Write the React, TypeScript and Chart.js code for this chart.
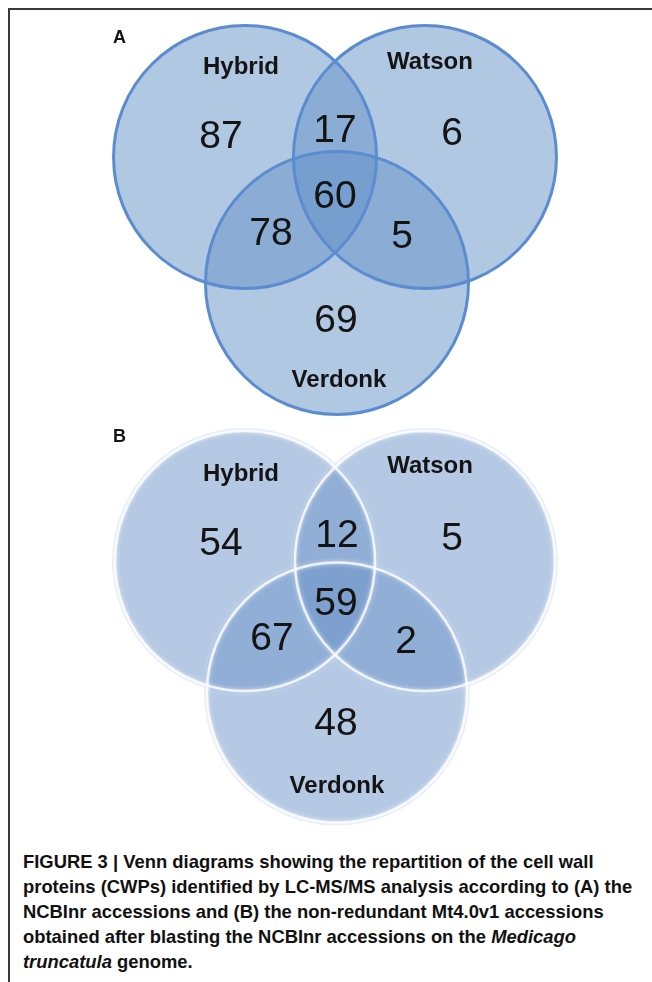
import React, { useEffect, useRef } from "react";
import { Chart, registerables } from "chart.js";

Chart.register(...registerables);

// ---------- data ----------
const setNames = ["Hybrid", "Watson", "Verdonk"];
// region order: Hybrid only, Watson only, Verdonk only, H∩W, H∩V, W∩V, H∩W∩V
const regionKeys = ["H", "W", "V", "HW", "HV", "WV", "HWV"];
const countsA = [87, 6, 69, 17, 78, 5, 60];
const countsB = [54, 5, 48, 12, 67, 2, 59];

// ---------- Venn layout (units = circle radius) ----------
const circleRadius = 1;
const circleCentersA = [[-0.684, 0], [0.684, 0], [0.015, -0.958]];
const circleCentersB = [[-0.692, 0], [0.692, 0], [0.015, -1.012]];
const setLabelPosA = [[-0.715, 0.631], [0.722, 0.669], [0.03, -1.749]];
const setLabelPosB = [[-0.723, 0.615], [0.731, 0.677], [0.015, -1.785]];
const countPosA = [[-0.867, 0.068], [0.89, 0.091], [0.008, -1.331], [0, 0.114], [-0.487, -0.669], [0.51, -0.692], [0, -0.388]];
const countPosB = [[-0.877, 0.046], [0.9, 0.085], [0.008, -1.338], [0.015, 0.108], [-0.485, -0.685], [0.546, -0.708], [0.008, -0.415]];
const letterPosA = [-1.688, 0.867];
const letterPosB = [-1.708, 0.915];
const xRangeA = [-2.5475, 2.4106];
const yRangeA = [-2.038, 1.1939];
const xRangeB = [-2.5769, 2.4385];
const yRangeB = [-2.0692, 1.0462];

const captionLines = [
  "FIGURE 3 | Venn diagrams showing the repartition of the cell wall",
  "proteins (CWPs) identified by LC-MS/MS analysis according to (A) the",
  "NCBInr accessions and (B) the non-redundant Mt4.0v1 accessions",
  "obtained after blasting the NCBInr accessions on the Medicago",
  "truncatula genome.",
];
const italicWords = ["Medicago", "truncatula"];

const FONT = "'Liberation Sans', Arial, Helvetica, sans-serif";

type PanelProps = {
  letter: string;
  counts: number[];
  centers: number[][];
  labelPos: number[][];
  countPos: number[][];
  letterPos: number[];
  xRange: number[];
  yRange: number[];
  fill: string;
  stroke: string;
  strokeWidth: number;
  glow: boolean;
  top: number;
  height: number;
};

function VennPanel(p: PanelProps) {
  const ref = useRef<HTMLCanvasElement>(null);
  useEffect(() => {
    const canvas = ref.current!;
    const vennPlugin = {
      id: "vennDraw",
      afterDatasetsDraw(chart: any) {
        const { ctx } = chart;
        const xs = chart.scales.x;
        const ys = chart.scales.y;
        const rx = Math.abs(xs.getPixelForValue(circleRadius) - xs.getPixelForValue(0));
        const ry = Math.abs(ys.getPixelForValue(circleRadius) - ys.getPixelForValue(0));
        const meta = chart.getDatasetMeta(0);
        ctx.save();
        if (p.glow) {
          // soft halo outside the circles
          meta.data.forEach((el: any) => {
            ctx.beginPath();
            ctx.ellipse(el.x, el.y, rx + 1.5, ry + 1.5, 0, 0, Math.PI * 2);
            ctx.lineWidth = 3;
            ctx.strokeStyle = "rgba(150,175,215,0.25)";
            ctx.stroke();
          });
        }
        meta.data.forEach((el: any) => {
          ctx.beginPath();
          ctx.ellipse(el.x, el.y, rx, ry, 0, 0, Math.PI * 2);
          ctx.fillStyle = p.fill;
          ctx.fill();
        });
        meta.data.forEach((el: any) => {
          ctx.beginPath();
          ctx.ellipse(el.x, el.y, rx, ry, 0, 0, Math.PI * 2);
          ctx.lineWidth = p.strokeWidth;
          ctx.strokeStyle = p.stroke;
          if (p.glow) {
            ctx.shadowColor = "rgba(255,255,255,0.9)";
            ctx.shadowBlur = 4;
          }
          ctx.stroke();
          ctx.shadowColor = "rgba(0,0,0,0)";
          ctx.shadowBlur = 0;
        });
        // texts
        ctx.fillStyle = "#141414";
        ctx.textAlign = "center";
        ctx.textBaseline = "alphabetic";
        ctx.font = `bold 24px ${FONT}`;
        setNames.forEach((n, i) => {
          ctx.fillText(n, xs.getPixelForValue(p.labelPos[i][0]), ys.getPixelForValue(p.labelPos[i][1]));
        });
        ctx.font = `39px ${FONT}`;
        regionKeys.forEach((_, i) => {
          ctx.fillText(String(p.counts[i]), xs.getPixelForValue(p.countPos[i][0]), ys.getPixelForValue(p.countPos[i][1]));
        });
        ctx.textAlign = "left";
        ctx.font = `bold 18px ${FONT}`;
        ctx.fillText(p.letter, xs.getPixelForValue(p.letterPos[0]), ys.getPixelForValue(p.letterPos[1]));
        ctx.restore();
      },
    };
    const chart = new Chart(canvas, {
      type: "scatter",
      data: {
        datasets: [
          {
            label: p.letter,
            data: p.centers.map(([x, y]) => ({ x, y })) as any,
            pointRadius: 0,
            pointHoverRadius: 0,
            showLine: false,
            clip: false as any,
          } as any,
        ],
      },
      options: {
        responsive: false,
        animation: false,
        events: [],
        layout: { padding: 0, autoPadding: false } as any,
        plugins: { legend: { display: false }, tooltip: { enabled: false } },
        scales: {
          x: { type: "linear", display: false, min: p.xRange[0], max: p.xRange[1] },
          y: { type: "linear", display: false, min: p.yRange[0], max: p.yRange[1] },
        },
      },
      plugins: [vennPlugin],
    });
    return () => chart.destroy();
  }, []);
  return (
    <canvas
      ref={ref}
      width={652}
      height={p.height}
      style={{ position: "absolute", left: 0, top: p.top, width: 652, height: p.height }}
    />
  );
}

function CaptionLine({ text }: { text: string }) {
  const parts = text.split(/(\s+)/);
  return (
    <div>
      {parts.map((w, i) =>
        italicWords.includes(w) ? <i key={i}>{w}</i> : <span key={i}>{w}</span>
      )}
    </div>
  );
}

export default function App() {
  return (
    <div
      style={{
        position: "fixed",
        left: 0,
        top: 0,
        width: 652,
        height: 982,
        background: "#fff",
        overflow: "hidden",
      }}
    >
      <div
        style={{
          position: "absolute",
          left: 8,
          top: 8,
          width: 644,
          height: 974,
          boxSizing: "border-box",
          borderTop: "2px solid #3a3a3a",
          borderLeft: "2px solid #3a3a3a",
        }}
      />
      <VennPanel
        letter="A"
        counts={countsA}
        centers={circleCentersA}
        labelPos={setLabelPosA}
        countPos={countPosA}
        letterPos={letterPosA}
        xRange={xRangeA}
        yRange={yRangeA}
        fill="rgba(100,145,200,0.5)"
        stroke="rgb(92,140,208)"
        strokeWidth={3}
        glow={false}
        top={0}
        height={425}
      />
      <VennPanel
        letter="B"
        counts={countsB}
        centers={circleCentersB}
        labelPos={setLabelPosB}
        countPos={countPosB}
        letterPos={letterPosB}
        xRange={xRangeB}
        yRange={yRangeB}
        fill="rgba(108,148,202,0.5)"
        stroke="rgba(255,255,255,0.8)"
        strokeWidth={2.5}
        glow={true}
        top={425}
        height={405}
      />
      <div
        style={{
          position: "absolute",
          left: 23,
          top: 849,
          font: `bold 18.4px ${FONT}`,
          lineHeight: "25px",
          color: "#111",
          whiteSpace: "nowrap",
        }}
      >
        {captionLines.map((l, i) => (
          <CaptionLine key={i} text={l} />
        ))}
      </div>
    </div>
  );
}
